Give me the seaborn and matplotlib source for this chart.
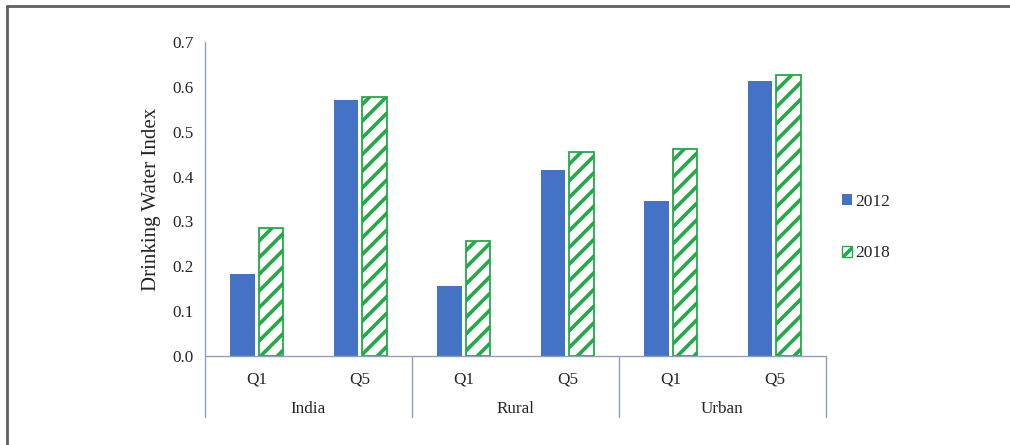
import pandas as pd
import numpy as np
import matplotlib.pyplot as plt
import seaborn as sns
from matplotlib.patches import Patch
from matplotlib.lines import Line2D

# ------------------------------------------------------------
# data
# ------------------------------------------------------------
groups = ["India", "Rural", "Urban"]
quintiles = ["Q1", "Q5"]
years = ["2012", "2018"]
vals_2012 = [0.183, 0.570, 0.156, 0.415, 0.346, 0.612]
vals_2018 = [0.285, 0.577, 0.256, 0.454, 0.461, 0.627]
yticks = [0.0, 0.1, 0.2, 0.3, 0.4, 0.5, 0.6, 0.7]

BLUE = "#4472C4"
GREEN = "#22AA48"
AXCOL = "#8EA0BE"

sns.set_style("white")
plt.rcParams['font.family'] = ['Liberation Serif', 'DejaVu Serif']
plt.rcParams['hatch.linewidth'] = 2.6

cats = [f"{g} {q}" for g in groups for q in quintiles]
df = pd.DataFrame({
    "cat": cats * 2,
    "year": [years[0]] * len(cats) + [years[1]] * len(cats),
    "value": vals_2012 + vals_2018,
})

fig = plt.figure(figsize=(10.1, 4.45), dpi=100)
ax = fig.add_axes([205 / 1010, 1 - 356 / 445, (826 - 205) / 1010, (356 - 42) / 445])

sns.barplot(data=df, x="cat", y="value", hue="year", order=cats,
            palette=[BLUE, "white"], saturation=1, width=0.55, gap=0.15,
            ax=ax, legend=False)

for p in ax.containers[0]:
    p.set_edgecolor("none")
for p in ax.containers[1]:
    p.set_facecolor("white")
    p.set_edgecolor(GREEN)
    p.set_hatch("//")
    p.set_linewidth(1.3)

ax.set_xlim(-0.5, len(cats) - 0.5)
ax.set_ylim(0, 0.7)
ax.set_yticks(yticks)
ax.set_yticklabels([f"{t:.1f}" for t in yticks], fontsize=12.3)
ax.tick_params(axis="y", length=0, pad=8)
ax.set_xticks([])
ax.set_xlabel("")
ax.set_ylabel("Drinking Water Index", fontsize=15, labelpad=8)

for s in ["top", "right", "left"]:
    ax.spines[s].set_visible(False)
ax.spines["bottom"].set_color(AXCOL)
ax.spines["bottom"].set_linewidth(1.0)

# left axis line and category separators extend below the baseline
trans = ax.get_xaxis_transform()
ybot = -(417 - 356) / (356 - 42)
ax.add_line(Line2D([-0.5, -0.5], [ybot, 1.0], transform=trans, color=AXCOL, lw=1.0, clip_on=False))
for xs in [1.5, 3.5, 5.5]:
    ax.add_line(Line2D([xs, xs], [ybot, 0], transform=trans, color=AXCOL, lw=1.0, clip_on=False))

# two-level category labels
yq = -(379 - 356) / (356 - 42)
yg = -(409 - 356) / (356 - 42)
for i, c in enumerate(cats):
    ax.text(i, yq, c.split()[1], transform=trans, ha="center", va="center", fontsize=12.3)
for j, g in enumerate(groups):
    ax.text(2 * j + 0.5, yg, g, transform=trans, ha="center", va="center", fontsize=12.3)

# legend
handles = [Patch(facecolor=BLUE, edgecolor="none", label=years[0]),
           Patch(facecolor="white", edgecolor=GREEN, hatch="//", label=years[1], linewidth=1.0)]
fig.legend(handles=handles, loc="upper left", bbox_to_anchor=(826 / 1010, 1 - 178 / 445),
           frameon=False, fontsize=12.5, handlelength=0.6, handleheight=0.6,
           handletextpad=0.2, labelspacing=2.05)

# outer frame (top and left edges only visible)
fig.add_artist(Line2D([7 / 1010, 1.0], [1 - 6 / 445, 1 - 6 / 445], transform=fig.transFigure,
                      color="#606060", lw=2.0))
fig.add_artist(Line2D([7 / 1010, 7 / 1010], [0, 1 - 6 / 445], transform=fig.transFigure,
                      color="#606060", lw=2.0))

fig.savefig("out.png", dpi=100)
